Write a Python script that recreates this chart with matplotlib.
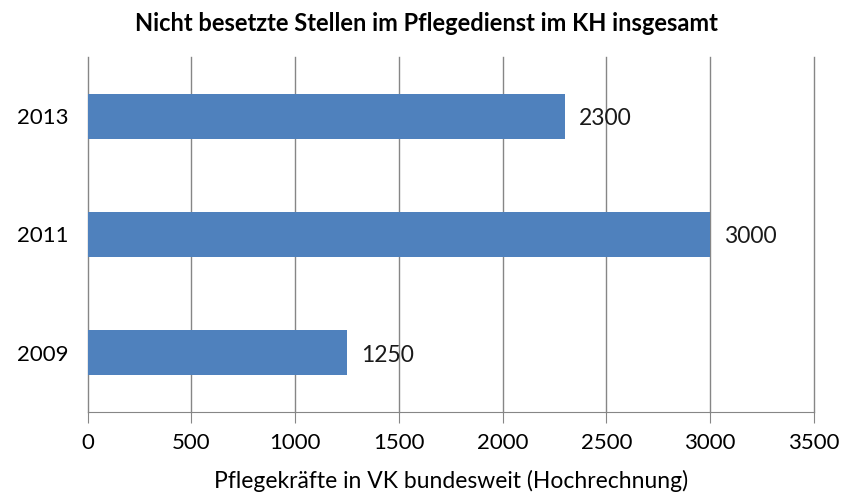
import matplotlib.pyplot as plt

years = ['2009', '2011', '2013']
values = [1250, 3000, 2300]
xticks = [0, 500, 1000, 1500, 2000, 2500, 3000, 3500]

plt.rcParams['font.family'] = ['Lato', 'DejaVu Sans']

fig = plt.figure(figsize=(8.52, 5.0), dpi=100)
ax = fig.add_axes([0.103, 0.176, 0.852, 0.71])

bars = ax.barh(years, values, height=0.38, color='#4F81BD', zorder=3)
for b, v in zip(bars, values):
    ax.text(v + 70, b.get_y() + b.get_height() / 2 - 0.02, str(v),
            va='center', ha='left', fontsize=16.5, color='#1a1a1a', zorder=4)

ax.set_xlim(0, 3500)
ax.set_ylim(-0.5, 2.5)
ax.set_xticks(xticks)
ax.set_xticklabels([str(t) for t in xticks])
ax.grid(axis='x', color='#868686', linewidth=1.0, zorder=0)
for gl in ax.get_xgridlines():
    gl.set_clip_on(False)

for s in ['top', 'right', 'left']:
    ax.spines[s].set_visible(False)
ax.spines['bottom'].set_color('#868686')
ax.tick_params(axis='x', length=8, color='#868686', labelsize=16, pad=7)
ax.tick_params(axis='y', length=0, labelsize=16, pad=14)

ax.set_xlabel('Pflegekräfte in VK bundesweit (Hochrechnung)', fontsize=16.5, labelpad=12)
fig.text(0.5, 0.953, 'Nicht besetzte Stellen im Pflegedienst im KH insgesamt',
         ha='center', va='center', fontsize=17, fontweight='bold')

fig.savefig('out.png', dpi=100)
